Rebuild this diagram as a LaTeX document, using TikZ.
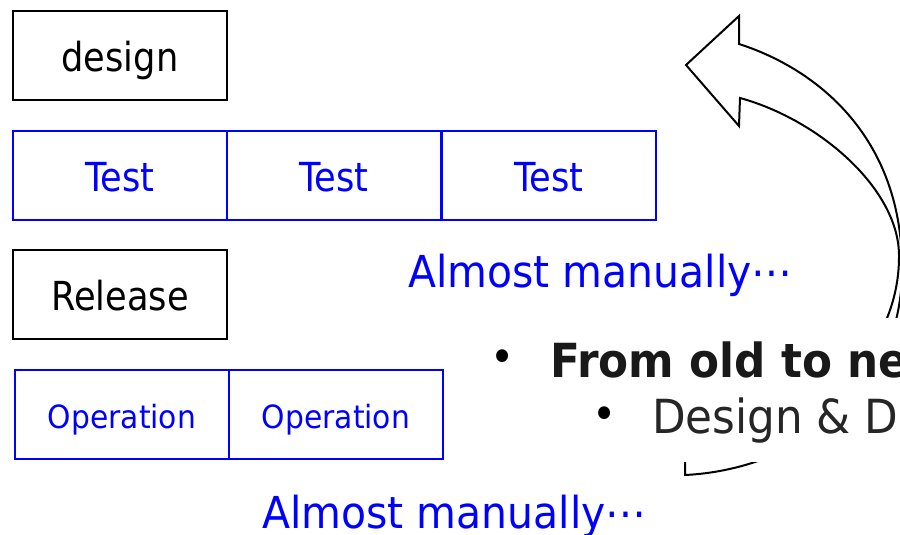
\documentclass[tikz,border=0pt]{standalone}
\usepackage{fontspec}
\usetikzlibrary{positioning}
\newfontfamily\boxfont[FakeStretch=0.88]{DejaVu Sans}
\newfontfamily\notefont[FakeStretch=0.93]{DejaVu Sans}
\definecolor{pblue}{RGB}{0,0,255}
\tikzset{
  stage/.style={draw=black, line width=2pt, minimum width=214pt, minimum height=89pt,
    inner sep=0pt, outer sep=0pt, text height=32pt, text depth=0pt, font=\boxfont\fontsize{40}{44}\selectfont},
  bluestage/.style={stage, draw=pblue, text=pblue, line width=1.8pt},
  note/.style={text=pblue, inner sep=0pt, anchor=base west, font=\notefont\fontsize{44}{48}\selectfont},
  bullet/.style={inner sep=0pt, anchor=center, font=\notefont\fontsize{44}{48}\selectfont},
}
\begin{document}
\begin{tikzpicture}[x=1pt,y=-1pt]
    \useasboundingbox (0,0) rectangle (900,535);
    \clip (0,0) rectangle (900,535);
    % curved block arrow going back up to design
    \draw[line width=2pt, fill=white] (685,475) .. controls (790,470) and (902,400) .. (902,270)
        .. controls (903,140) and (820,70) .. (739,44) -- (739,16) -- (686,65) -- (739,126) -- (740,98)
        .. controls (820,120) and (900,190) .. (899,257)
        .. controls (899,360) and (800,445) .. (685,452) -- cycle;
    \node[fill=white, inner sep=0pt, minimum width=415pt, minimum height=144pt, anchor=north west] (slide) at (490,318) {};

    \node[stage, anchor=north west] (design) at (13,11) {design};
    \node[bluestage, anchor=north west] (test1) at (13,131) {Test};
    \node[bluestage, right=0pt of test1] (test2) {Test};
    \node[bluestage, right=1pt of test2] (test3) {Test};
    \node[stage, anchor=north west] (release) at (13,250) {Release};
    \node[bluestage, anchor=north west, text height=28pt, font=\notefont\fontsize{32}{36}\selectfont] (op1) at (15,370) {Operation};
    \node[bluestage, right=0pt of op1, text height=28pt, font=\notefont\fontsize{32}{36}\selectfont] (op2) {Operation};

    \node[note] (manual1) at (408,287) {Almost manually⋯};
    \node[note] (manual2) at (262,528) {Almost manually⋯};

    \node[bullet] (dot1) at (503,361) {•};
    \node[inner sep=0pt, anchor=base west, text=black!90, font=\notefont\bfseries\fontsize{47}{50}\selectfont] (oldnew) at (550,377) {From old to ne};
    \node[bullet] (dot2) at (605,418) {•};
    \node[inner sep=0pt, anchor=base west, text=black!85, font=\notefont\fontsize{47}{50}\selectfont] (devops) at (652,433) {Design \& D};
\end{tikzpicture}
\end{document}
